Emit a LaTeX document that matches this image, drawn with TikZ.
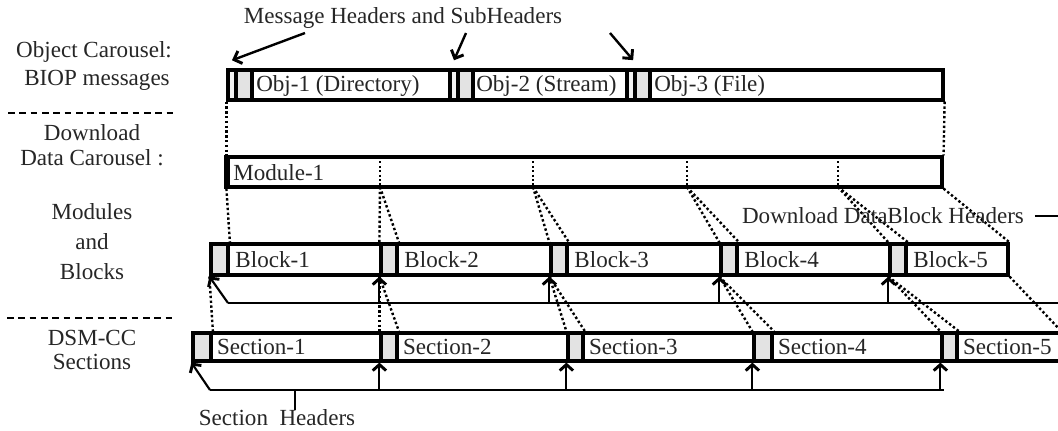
\documentclass[tikz,border=0pt]{standalone}
\usepackage{fontspec}
\setmainfont{Liberation Serif}
\usetikzlibrary{fit,arrows.meta}
\newcommand\lbfont{\fontsize{17.3pt}{20pt}\selectfont}
\begin{document}
\begin{tikzpicture}[x=0.75pt,y=-0.75pt,
  bx/.style={draw, line width=2.4pt, fill=white, inner sep=0pt},
  hd/.style={draw, line width=2.8pt, fill=gray!22, inner sep=0pt},
  strip/.style={draw, line width=2.6pt, fill=gray!10, inner sep=0pt},
  lbl/.style={font=\lbfont, text=black!85, inner sep=0pt},
  dots/.style={line width=1.8pt, dash pattern=on 1.8pt off 1.8pt},
  fdots/.style={line width=1.4pt, dash pattern=on 1.5pt off 1.8pt},
  sep/.style={line width=1.8pt, dash pattern=on 5pt off 3.5pt},
  rail/.style={line width=1.6pt},
  uparr/.style={line width=1.6pt, -{Straight Barb[length=4.5pt,width=10pt,line width=2.2pt]}},
  marr/.style={line width=1.8pt, -{Straight Barb[length=5pt,width=10pt,line width=2.2pt]}}
]
\useasboundingbox (0,0) rectangle (1058,430);

% ---------- left labels ----------
\node[lbl] (l1) at (94,52) {Object Carousel:};
\node[lbl] (l2) at (97,80) {BIOP messages};
\node[lbl] (l3) at (92,133) {Download};
\node[lbl] (l4) at (92,158) {Data Carousel :};
\node[lbl] (l5) at (92,212) {Modules};
\node[lbl] (l6) at (92,242) {and};
\node[lbl] (l7) at (92,272) {Blocks};
\node[lbl] (l8) at (92,338) {DSM-CC};
\node[lbl] (l9) at (92,362) {Sections};
\coordinate (s1a) at (8,113); \coordinate (s1b) at (176,113);
\coordinate (s2a) at (7,318); \coordinate (s2b) at (176,318);
\draw[sep] (s1a) -- (s1b);
\draw[sep] (s2a) -- (s2b);

% ---------- object carousel ----------
\node[lbl] (msg) at (403,18) {Message Headers and SubHeaders};
\node[bx, fit={(228,70)(450,100)}] (obj1) {};
\node[bx, fit={(450,70)(627,100)}] (obj2) {};
\node[bx, fit={(627,70)(943,100)}] (obj3) {};
\node[strip, fit={(228,70)(236,100)}] (obj1s) {};
\node[hd, fit={(236,70)(252,100)}] (obj1h) {};
\node[strip, fit={(450,70)(458,100)}] (obj2s) {};
\node[hd, fit={(458,70)(473,100)}] (obj2h) {};
\node[strip, fit={(627,70)(635,100)}] (obj3s) {};
\node[hd, fit={(635,70)(650,100)}] (obj3h) {};
\node[lbl, anchor=west] (o1t) at (256,86) {Obj-1 (Directory)};
\node[lbl, anchor=west] (o2t) at (476,86) {Obj-2 (Stream)};
\node[lbl, anchor=west] (o3t) at (654,86) {Obj-3 (File)};
\coordinate (a1s) at (305,33);
\coordinate (a2s) at (466,33);
\coordinate (a3s) at (610,33);
\draw[marr] (a1s) -- ([yshift=6pt]obj1s.north);
\draw[marr] (a2s) -- ([yshift=6pt]obj2s.north);
\draw[marr] (a3s) -- ([yshift=6pt]obj3h.north west);

% ---------- module ----------
\node[bx, fit={(228,157)(942,187)}] (mod) {};
\draw[line width=3pt] (mod.north west) -- (mod.south west);
\node[lbl, anchor=west] (modt) at (233,173) {Module-1};
\foreach \i/\x in {1/380,2/533,3/687,4/838}{
  \coordinate (d\i t) at (\x,157);
  \coordinate (d\i b) at (\x,187);
  \draw[fdots] (d\i t) -- (d\i b);
}
\draw[dots] (obj1.south west) -- (mod.north west);
\draw[dots] (obj3.south east) -- (mod.north east);

% ---------- blocks ----------
\node[bx, fit={(211,244)(381,275)}] (blk1) {};
\node[bx, fit={(381,244)(551,275)}] (blk2) {};
\node[bx, fit={(551,244)(721,275)}] (blk3) {};
\node[bx, fit={(721,244)(890,275)}] (blk4) {};
\node[bx, fit={(890,244)(1008,275)}] (blk5) {};
\node[hd, fit={(211,244)(228,275)}] (blk1h) {};
\node[hd, fit={(381,244)(397,275)}] (blk2h) {};
\node[hd, fit={(551,244)(567,275)}] (blk3h) {};
\node[hd, fit={(721,244)(737,275)}] (blk4h) {};
\node[hd, fit={(890,244)(906,275)}] (blk5h) {};
\foreach \i in {1,...,5}{
  \node[lbl, anchor=west] (b\i t) at ([xshift=4pt]blk\i h.east) {Block-\i};
}
\draw[dots] (mod.south west) -- (blk1h.north east);
\draw[dots] (d1b) -- (blk2.north west);
\draw[dots] (d1b) -- (blk2h.north east);
\draw[dots] (d2b) -- (blk3.north west);
\draw[dots] (d2b) -- (blk3h.north east);
\draw[dots] (d3b) -- (blk4.north west);
\draw[dots] (d3b) -- (blk4h.north east);
\draw[dots] (d4b) -- (blk5.north west);
\draw[dots] (d4b) -- (blk5h.north east);
\draw[dots] (mod.south east) -- (blk5.north east);

\node[lbl] (dbh) at (883,216) {Download DataBlock Headers};
\coordinate (dbr) at (1064,216);
\draw[rail] ([xshift=8pt]dbh.east) -- (dbr);

% block header pointers
\coordinate (bl) at (228,303);
\coordinate (br) at (1064,303);
\draw[rail] (bl) -- (br);
\draw[uparr] (bl) -- (blk1.south west);
\foreach \i in {2,...,5}{
  \draw[uparr] (blk\i.south west |- bl) -- (blk\i.south west);
}

% ---------- sections ----------
\node[bx, fit={(193,333)(381,361)}] (sec1) {};
\node[bx, fit={(381,333)(568,361)}] (sec2) {};
\node[bx, fit={(568,333)(754,361)}] (sec3) {};
\node[bx, fit={(754,333)(942,361)}] (sec4) {};
\node[bx, fit={(942,333)(1070,361)}] (sec5) {};
\node[hd, fit={(193,333)(211,361)}] (sec1h) {};
\node[hd, fit={(381,333)(397,361)}] (sec2h) {};
\node[hd, fit={(568,333)(583,361)}] (sec3h) {};
\node[hd, fit={(754,333)(772,361)}] (sec4h) {};
\node[hd, fit={(942,333)(957,361)}] (sec5h) {};
\foreach \i in {1,...,5}{
  \node[lbl, anchor=west] (s\i t) at ([xshift=3pt]sec\i h.east) {Section-\i};
}
\draw[dots] (blk1.south west) -- (sec1h.north east);
\foreach \i in {2,...,5}{
  \draw[dots] (blk\i.south west) -- (sec\i.north west);
  \draw[dots] (blk\i.south west) -- (sec\i h.north east);
}
\coordinate (sx) at (1063,333);
\draw[dots] (blk5.south east) -- (sx);

% section header pointers
\coordinate (sl) at (210,390);
\draw[rail] (sl) -- (sec4.south east |- sl);
\draw[uparr] (sl) -- (sec1.south west);
\foreach \i in {2,...,5}{
  \draw[uparr] (sec\i.south west |- sl) -- (sec\i.south west);
}
\node[lbl] (shd) at (277,418) {Section~ Headers};
\coordinate (tk) at (295,390);
\draw[rail] (tk) -- (tk |- shd.north);
\end{tikzpicture}
\end{document}
